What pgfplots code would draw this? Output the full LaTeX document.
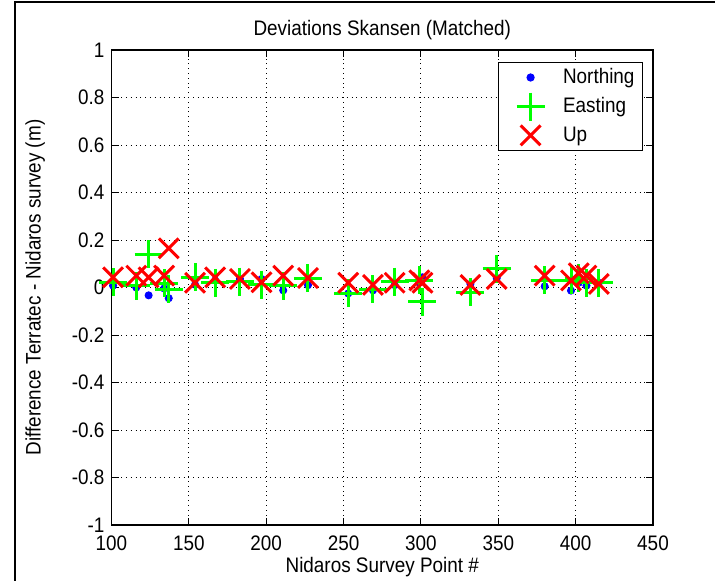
\documentclass[border=0pt]{standalone}
\usepackage{fontspec}
\setmainfont{Liberation Sans}[FakeStretch=0.9]
\usepackage{pgfplots}
\pgfplotsset{compat=1.18}
\pgfplotstableread{
x N E U
101 0.008 0.022 0.043
116 0.000 0.008 0.050
124 -0.033 0.140 0.043
134 -0.004 0.018 0.050
137 -0.045 -0.008 0.165
154 0.012 0.043 0.020
167 0.030 0.020 0.043
183 0.036 0.025 0.036
197 0.036 0.012 0.022
211 -0.012 0.008 0.050
227 0.010 0.040 0.040
253 -0.025 -0.025 0.020
269 -0.012 -0.008 0.011
283 0.010 0.025 0.020
299 0.020 0.030 0.030
301 0.043 -0.060 0.020
332 0.015 -0.020 0.011
349 0.040 0.078 0.036
380 0.005 0.030 0.050
397 -0.013 0.030 0.030
402 0.020 0.040 0.060
407 0.008 0.020 0.050
415 0.020 0.020 0.015
}\devdata
\pgfplotsset{wideimg/.style={legend image code/.code={\draw[mark repeat=2,mark phase=2,##1] plot coordinates {(0cm,0cm) (0.5cm,0cm) (1.0cm,0cm)}; \path[draw=none,fill=none] (0cm,0cm) -- (1.0cm,0cm);}}}
\begin{document}
\begin{tikzpicture}[font=\fontsize{10.5}{12.6}\selectfont]
\useasboundingbox (-55.75pt,-27.5pt) rectangle (301.75pt,262.5pt);
\fill[white] (-55.75pt,-27.5pt) rectangle (301.75pt,262.5pt);
\draw[line width=1.2pt] (-48.3pt,-30pt) -- (-48.3pt,261.6pt) -- (305pt,261.6pt);
\begin{axis}[
  at={(0pt,0pt)}, anchor=south west,
  scale only axis, width=270.75pt, height=237.5pt,
  xmin=100, xmax=450, ymin=-1, ymax=1,
  xtick={100,150,200,250,300,350,400,450},
  ytick={-1,-0.8,-0.6,-0.4,-0.2,0,0.2,0.4,0.6,0.8,1},
  /pgf/number format/assume math mode=true,
  grid=major,
  major grid style={dotted, black, line width=0.5pt},
  tick align=inside, major tick length=3.5pt,
  tick style={black, line width=0.5pt},
  axis line style={black, line width=0.6pt},
  xticklabel style={yshift=-2pt},
  every axis title shift=0pt,
  title={Deviations Skansen (Matched)},
  title style={at={(axis description cs:0.5,1.0295)}, anchor=base, inner sep=0pt},
  xlabel={Nidaros Survey Point \#},
  xlabel style={at={(axis description cs:0.5,-0.1)}, anchor=base, inner sep=0pt},
  ylabel={Difference Terratec - Nidaros survey (m)},
  ylabel style={at={(axis description cs:-0.141,0.5)}, anchor=center, rotate=0, inner sep=0pt},
  legend style={at={(axis description cs:0.9815,0.975)}, anchor=north east,
    draw=black, line width=0.5pt, fill=white, cells={anchor=west},
    row sep=1pt, inner xsep=2pt, inner ysep=1pt},
]
\addplot[only marks, mark=*, mark size=1.8pt, color=blue, wideimg] table[x=x, y=N] {\devdata};
\addlegendentry{Northing}
\addplot[only marks, mark=+, mark size=7pt, color=green, line width=1.5pt, wideimg] table[x=x, y=E] {\devdata};
\addlegendentry{Easting}
\addplot[only marks, mark=x, mark size=7pt, color=red, line width=1.5pt, wideimg] table[x=x, y=U] {\devdata};
\addlegendentry{Up}
\end{axis}
\end{tikzpicture}
\end{document}
